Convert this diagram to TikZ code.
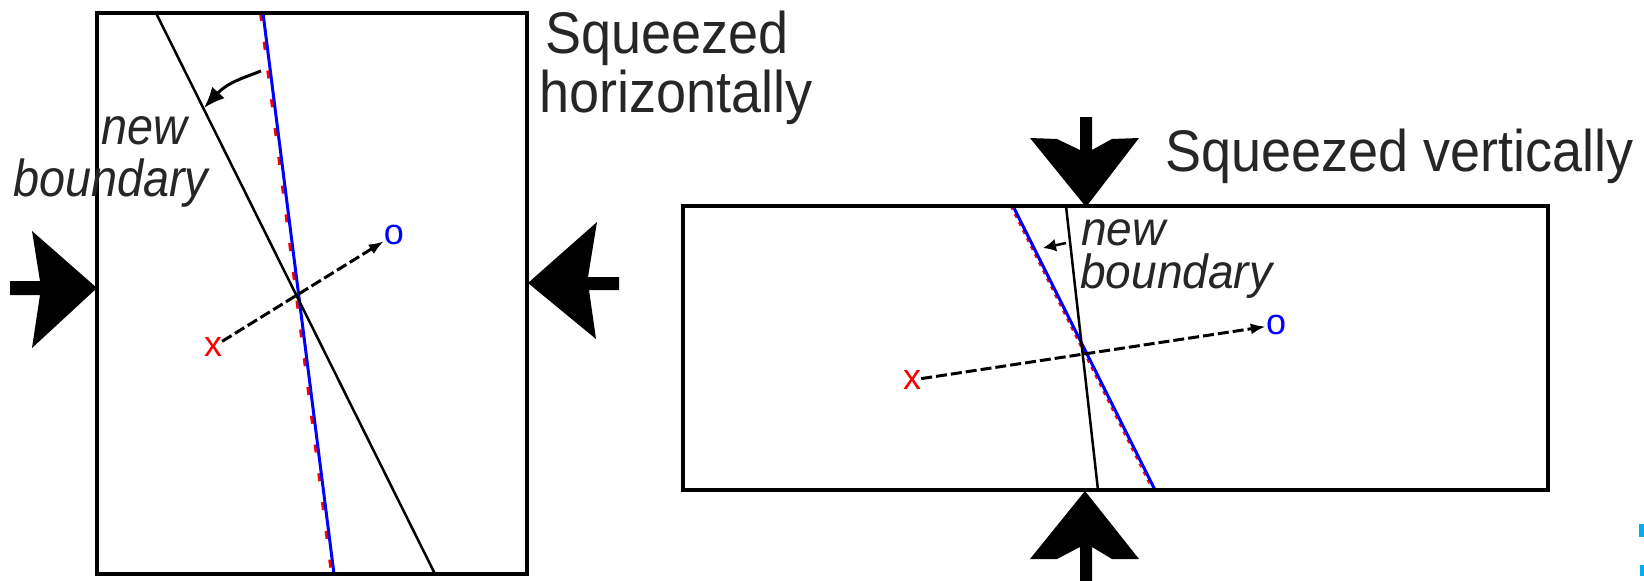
\documentclass[tikz,border=0pt]{standalone}
\usepackage{fontspec}
\setmainfont{Liberation Sans}
\usetikzlibrary{arrows.meta}
\begin{document}
\begin{tikzpicture}[x=1pt,y=-1pt,
  frame/.style={line width=4pt},
  bline/.style={line width=2.5pt},
  blueline/.style={draw=blue,line width=3pt},
  redline/.style={draw=red,line width=3pt},
  squeeze/.style={fill=black,draw=none},
  dasharrow/.style={line width=3pt,dash pattern=on 11pt off 4pt,-{Latex[length=15pt,width=11pt]}},
  bendarrow/.style={line width=3pt,-{Latex[length=21pt,width=17pt]}},
  lbl/.style={inner sep=0pt,anchor=base west,text=black!85},
  ptmark/.style={inner sep=0pt,font=\fontsize{36}{36}\selectfont},
]
\useasboundingbox (0,0) rectangle (1644,581);

% ---------- left box ----------
\draw[redline,dash pattern=on 8pt off 21pt] (260.5,13) -- (331.5,574);
\draw[blueline] (263,13) -- (334,574);
\draw[bline] (156,13) -- (435,574);
\draw[frame] (97,13) rectangle (527,574);

\coordinate (la1) at (261,71);
\coordinate (la2) at (204,108);
\draw[bendarrow] (la1) .. controls (246,77) and (228,82) .. (la2);

\node[ptmark,text=red] (xa) at (213,347) {x};
\node[ptmark,text=blue] (oa) at (394,235) {o};
\draw[dasharrow] (xa) -- (oa);

\node[lbl,font=\fontsize{52}{52}\selectfont\itshape] (nb1) at (101,144) {\scalebox{0.9}[1]{new}};
\node[lbl,font=\fontsize{52}{52}\selectfont\itshape] (nb2) at (13,196) {\scalebox{0.9}[1]{boundary}};

% squeeze arrows of left box
\path[squeeze] (97,288) -- (32,231) -- (40,281) -- (10,281) -- (10,295) -- (40,295) -- (32,348) -- cycle;
\path[squeeze] (528,283) -- (597,222) -- (588,277) -- (619,277) -- (619,290) -- (589,290) -- (596,339) -- cycle;

\node[lbl,font=\fontsize{58.7}{59}\selectfont] (sh1) at (545,53) {\scalebox{0.92}[1]{Squeezed}};
\node[lbl,font=\fontsize{58.7}{59}\selectfont] (sh2) at (539,112) {\scalebox{0.92}[1]{horizontally}};

% ---------- right box ----------
\draw[draw=red,line width=2.5pt,dash pattern=on 4pt off 5pt] (1011,206) -- (1153,490);
\draw[blueline] (1013,206) -- (1155,490);
\draw[bline] (1066,206) -- (1098,490);
\draw[frame] (683,206) rectangle (1548,490);

\coordinate (ra1) at (1066,243);
\coordinate (ra2) at (1043,248);
\draw[line width=2.5pt,-{Latex[length=13pt,width=13pt]}] (ra1) -- (ra2);

\node[ptmark,text=red] (xb) at (912,380) {x};
\node[ptmark,text=blue] (ob) at (1276,325) {o};
\draw[dasharrow] (xb) -- (ob);

\node[lbl,font=\fontsize{48}{48}\selectfont\itshape] (nb3) at (1081,245) {\scalebox{0.96}[1]{new}};
\node[lbl,font=\fontsize{48}{48}\selectfont\itshape] (nb4) at (1080,288) {\scalebox{0.96}[1]{boundary}};

% squeeze arrows of right box
\path[squeeze] (1086,207) -- (1030,138) -- (1057,139) -- (1080,150) -- (1080,117) -- (1092,117) -- (1092,150) -- (1112,139) -- (1139,138) -- cycle;
\path[squeeze] (1085,491) -- (1139,559) -- (1112,559) -- (1092,547) -- (1092,581) -- (1080,581) -- (1080,547) -- (1057,559) -- (1030,559) -- cycle;

\node[lbl,font=\fontsize{58.7}{59}\selectfont] (sv) at (1165,171) {\scalebox{0.92}[1]{Squeezed vertically}};

% cropped marks at the right edge
\fill[cyan] (1639,524) rectangle (1644,537);
\fill[cyan] (1640,565) rectangle (1644,576);
\end{tikzpicture}
\end{document}
